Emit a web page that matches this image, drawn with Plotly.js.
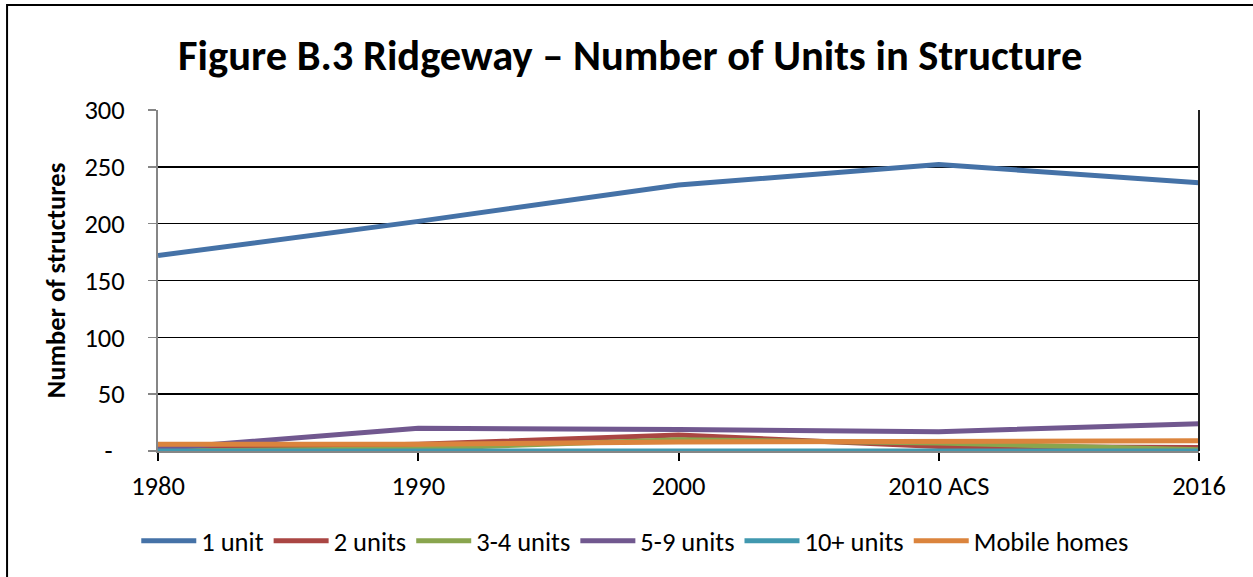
<!DOCTYPE html>
<html>
<head>
<meta charset="utf-8">
<script src="https://cdn.plot.ly/plotly-3.0.1.min.js"></script>
<style>html,body{margin:0;padding:0;background:#fff;}#chart{width:1253px;height:577px;}</style>
</head>
<body>
<div id="chart"></div>
<script>
const years = ['1980', '1990', '2000', '2010 ACS', '2016'];
const seriesNames = ['1 unit', '2 units', '3-4 units', '5-9 units', '10+ units', 'Mobile homes'];
const oneUnit = [172, 202, 234, 252, 236];
const twoUnits = [2, 6, 14, 4, 3];
const threeFourUnits = [0, 2, 10, 7, 1];
const fiveNineUnits = [2, 20, 19, 17, 24];
const tenPlusUnits = [0, 0, 0, 0, 0];
const mobileHomes = [6, 6, 8, 9, 9];
const yTickVals = [0, 50, 100, 150, 200, 250, 300];
const yTickText = ['-\u00a0\u00a0', '50', '100', '150', '200', '250', '300'];

const colors = ['#4572A7', '#AA4643', '#89A54E', '#71588F', '#4198AF', '#DB843D'];
const values = [oneUnit, twoUnits, threeFourUnits, fiveNineUnits, tenPlusUnits, mobileHomes];
const font = '"Carlito", "Lato", "Open Sans", sans-serif';

const traces = values.map((v, i) => ({
  type: 'scatter', mode: 'lines', name: seriesNames[i], x: years, y: v,
  line: {color: colors[i], width: 5}
}));

const layout = {
  width: 1253, height: 577,
  margin: {l: 158, r: 54, t: 110, b: 126},
  paper_bgcolor: '#fff', plot_bgcolor: '#fff',
  font: {family: font, size: 26.5, color: '#000'},
  showlegend: true,
  title: {text: '<b>Figure B.3 Ridgeway \u2013 Number of Units in Structure</b>', x: 0.503, xanchor: 'center', y: 0.905, yanchor: 'middle', font: {family: font, size: 42.5, color: '#000'}},
  xaxis: {type: 'category', range: [0, 4], showgrid: false, zeroline: false, showline: true, linecolor: '#868686', linewidth: 2,
    ticks: 'outside', ticklen: 8, tickwidth: 2, tickcolor: '#000', ticklabelstandoff: 2, tickfont: {size: 26.5}},
  yaxis: {range: [0, 300], tickvals: yTickVals, ticktext: yTickText, showgrid: true, gridcolor: '#000', gridwidth: 1.5, zeroline: false,
    showline: true, linecolor: '#868686', linewidth: 2, ticks: 'outside', ticklen: 8, tickwidth: 1.5, tickcolor: '#868686', ticklabelstandoff: 18,
    title: {text: '<b>Number of structures</b>', standoff: 11, font: {size: 26.5}}, tickfont: {size: 26.5}},
  legend: {orientation: 'h', x: 0.458, xanchor: 'center', y: -0.264, yanchor: 'middle', font: {size: 26.5}, itemwidth: 55, traceorder: 'normal'},
  shapes: [
    {type: 'line', xref: 'paper', yref: 'paper', x0: 1, x1: 1, y0: 0, y1: 1, line: {color: '#222', width: 2}},
    {type: 'rect', xref: 'paper', yref: 'paper', x0: -0.145, x1: 1.2, y0: -0.6, y1: 1.308, line: {color: '#000', width: 2}, layer: 'below'}
  ]
};

Plotly.newPlot('chart', traces, layout, {displayModeBar: false, staticPlot: true});
</script>
</body>
</html>
